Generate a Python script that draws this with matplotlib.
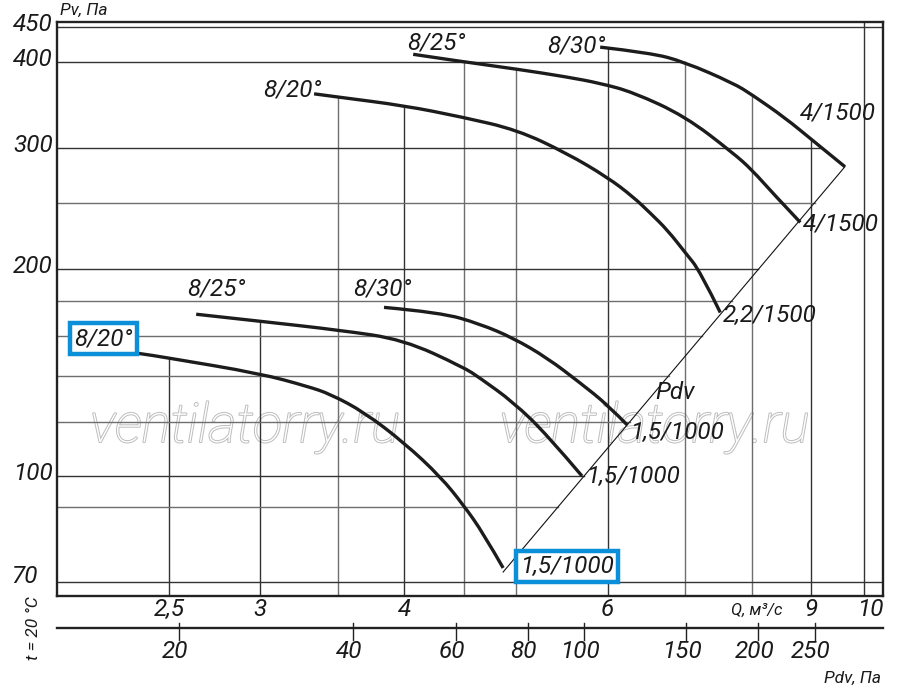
import numpy as np
import matplotlib
matplotlib.use('Agg')
import matplotlib.pyplot as plt
import matplotlib.transforms as mtransforms
import matplotlib.patheffects as pe
from matplotlib.path import Path
from matplotlib.patches import PathPatch
from matplotlib.ticker import NullLocator

plt.rcParams['font.family'] = ['Roboto', 'DejaVu Sans']

# ---------------- data ----------------
# upper family (4/1500 ... 2,2/1500)
q_up_20 = [3.34, 3.51, 4.00, 4.49, 5.01, 5.53, 6.00, 6.31, 6.53, 6.76, 7.01, 7.21, 7.51]
p_up_20 = [360, 356, 346, 333, 319, 295, 272, 255, 241.5, 228, 211, 199, 173]
q_up_25 = [4.07, 4.49, 5.01, 5.53, 5.91, 6.31, 7.00, 7.71, 8.00, 8.34, 8.81]
p_up_25 = [411, 401, 391, 381, 373, 362, 334, 295, 279, 258, 234]
q_up_30 = [5.91, 6.53, 6.98, 7.71, 8.00, 8.55, 9.02, 9.63]
p_up_30 = [421, 413, 401, 373, 359, 332, 308.4, 282]
# lower family (1,5/1000)
q_lo_20 = [2.15, 2.35, 2.50, 3.00, 3.30, 3.45, 3.69, 4.00, 4.30, 4.50, 4.68, 4.87]
p_lo_20 = [154, 151, 148.5, 141, 135, 131.6, 123.9, 111.7, 99.7, 90.7, 82.6, 73.5]
q_lo_25 = [2.64, 3.00, 3.52, 3.99, 4.50, 4.65, 4.97, 5.32, 5.70]
p_lo_25 = [172, 168, 163, 158, 144, 138.9, 128.1, 114.7, 100]
q_lo_30 = [3.84, 4.30, 4.65, 4.97, 5.32, 5.68, 6.00, 6.24]
p_lo_30 = [176, 173, 166.5, 158.8, 148.5, 136.6, 126.9, 118.6]

# dynamic pressure line Pdv (end points)
diag_q = [4.87, 9.63]
diag_p = [72.5, 282]

# axes ticks / grid
q_ticks = [2.5, 3, 4, 6, 9, 10]
q_tick_labels = ['2,5', '3', '4', '6', '9', '10']
q_grid = [2.5, 3, 3.5, 4, 4.5, 5, 6, 7, 8, 9, 10]
p_ticks = [450, 400, 300, 200, 100, 70]
p_grid = [450, 400, 300, 250, 200, 180, 160, 140, 120, 100, 90, 70]
pdv_ticks = [20, 40, 60, 80, 100, 150, 200, 250]

curve_labels = ['8/20°', '8/25°', '8/30°', '4/1500', '4/1500', '2,2/1500',
                '8/20°', '8/25°', '8/30°', '1,5/1000', '1,5/1000', '1,5/1000', 'Pdv']

# ---------------- figure ----------------
fig = plt.figure(figsize=(9, 6.95), dpi=100)
ax = fig.add_axes([57/900, 1-596/695, 826/900, 574/695])
ax.set_xscale('log')
ax.set_yscale('log')
XMIN, XMAX = 2.0, 10.39
YMIN, YMAX = 66.9, 458
ax.set_xlim(XMIN, XMAX)
ax.set_ylim(YMIN, YMAX)
for axis in (ax.xaxis, ax.yaxis):
    axis.set_major_locator(NullLocator())
    axis.set_minor_locator(NullLocator())
for s in ax.spines.values():
    s.set_linewidth(1.7)
    s.set_color('#222222')

curves = [(q_up_20, p_up_20), (q_up_25, p_up_25), (q_up_30, p_up_30),
          (q_lo_20, p_lo_20), (q_lo_25, p_lo_25), (q_lo_30, p_lo_30)]


def interp_log(x, xs, ys):
    return 10 ** np.interp(np.log10(x), np.log10(xs), np.log10(ys))


dq = np.log10(diag_q)
dp = np.log10(diag_p)
slope = (dp[1] - dp[0]) / (dq[1] - dq[0])


def q_on_diag(p):
    return 10 ** (dq[0] + (np.log10(p) - dp[0]) / slope)


def smooth_path(xs, ys):
    """Quadratic B-spline path through the read points (midpoints taken in log space)."""
    pts = list(zip(xs, ys))
    verts = [pts[0]]
    codes = [Path.MOVETO]
    for i in range(1, len(pts) - 1):
        a, b = pts[i], pts[i + 1]
        end = b if i == len(pts) - 2 else (np.sqrt(a[0] * b[0]), np.sqrt(a[1] * b[1]))
        verts += [a, end]
        codes += [Path.CURVE3, Path.CURVE3]
    return Path(verts, codes)


# watermark (outline text, beneath the grid so the grid shows through)
for xf in (0.272, 0.727):
    ax.text(xf, 1 - 442/695, 'ventilatorry.ru', transform=fig.transFigure, fontsize=39,
            style='italic', fontweight='light', color='white', ha='center',
            va='baseline', zorder=0.5,
            path_effects=[pe.Stroke(linewidth=1.4, foreground='#bdbdbd'), pe.Normal()])

# vertical grid lines, clipped at the curves above
for q in q_grid:
    tops = [interp_log(q, xs, ys) for xs, ys in curves if min(xs) <= q <= max(xs)]
    top = max(tops) if tops else YMAX
    col = '#333333' if q in q_ticks else '#6e6e6e'
    ax.plot([q, q], [YMIN, top], color=col, lw=1.0, zorder=1)

# horizontal grid lines, clipped at the Pdv line / curves
for p in p_grid:
    if min(diag_p) <= p <= max(diag_p):
        right = q_on_diag(p)
    else:
        cr = [10 ** np.interp(np.log10(p), np.log10(ys[::-1]), np.log10(xs[::-1]))
              for xs, ys in curves if min(ys) <= p <= max(ys)]
        right = max(cr) if cr else XMAX
    col = '#333333' if p in p_ticks else '#6e6e6e'
    ax.plot([XMIN, right], [p, p], color=col, lw=1.0, zorder=1)

# Pdv line
ax.plot(diag_q, diag_p, color='#111111', lw=0.8, zorder=3)

# curves
for xs, ys in curves:
    ax.add_patch(PathPatch(smooth_path(xs, ys), fc='none', ec='#1c1c1c', lw=2.4,
                           capstyle='butt', zorder=4))

# curve labels (left / baseline anchor)
FS = 17.5
lab_pos = [(3.015, 357), (4.02, 418), (5.32, 413), (8.81, 330), (8.86, 228), (7.54, 167.6),
           (2.07, 155), (2.595, 183), (3.61, 183), (5.04, 72.3), (5.74, 97.7), (6.27, 113.2),
           (6.60, 129.5)]
for i, (txt, (x, y)) in enumerate(zip(curve_labels, lab_pos)):
    kw = {}
    if i in (6, 9):
        kw['bbox'] = dict(boxstyle='square,pad=0.17', fc='white', ec='#0a8fd8', lw=3.2)
    ax.text(x, y, txt, fontsize=FS, style='italic', color='#1a1a1a',
            ha='left', va='baseline', zorder=5, **kw)

# y tick labels
ty = mtransforms.blended_transform_factory(ax.transAxes, ax.transData)
for p in p_ticks:
    if p == 70:
        ax.text((38 - 57) / 826, 71.5, '70', transform=ty, fontsize=FS, style='italic',
                ha='right', va='center', color='#1a1a1a')
    else:
        ax.text(-0.005, p * 1.01, str(p), transform=ty, fontsize=FS, style='italic',
                ha='right', va='center', color='#1a1a1a')

# x tick labels
tx = mtransforms.blended_transform_factory(ax.transData, fig.transFigure)
for q, lab in zip(q_ticks, q_tick_labels):
    xq = q * 1.012 if q == 10 else q
    ax.text(xq, 1 - 609/695, lab, transform=tx, fontsize=FS, style='italic',
            ha='center', va='center', color='#1a1a1a', clip_on=False)

ax.text(8.08, 1 - 610/695, 'Q, м³/с', transform=tx, fontsize=12, style='italic',
        ha='center', va='center', color='#1a1a1a', clip_on=False)

# secondary Pdv axis
ysec = 1 - 628/695
ax.plot([XMIN, XMAX], [ysec, ysec], transform=tx, color='#222222', lw=1.7, clip_on=False)
tx_lab = mtransforms.offset_copy(tx, fig=fig, x=-4, y=0, units='dots')
for v in pdv_ticks:
    qv = q_on_diag(v)
    ax.plot([qv, qv], [1 - 623/695, 1 - 640/695], transform=tx, color='#222222',
            lw=1.0, clip_on=False)
    ax.text(qv, 1 - 651/695, str(v), transform=tx_lab, fontsize=FS, style='italic',
            ha='center', va='center', color='#1a1a1a', clip_on=False)

fig.text(852/900, 1 - 678/695, 'Pdv, Па', fontsize=12.5, style='italic',
         ha='center', va='center', color='#1a1a1a')
fig.text(84/900, 1 - 10/695, 'Pv, Па', fontsize=12.5, style='italic',
         ha='center', va='center', color='#1a1a1a')
fig.text(33/900, 1 - 628/695, 't = 20 °C', fontsize=12.5, style='italic', rotation=90,
         ha='center', va='center', color='#1a1a1a')

fig.savefig('out.png', dpi=100)
